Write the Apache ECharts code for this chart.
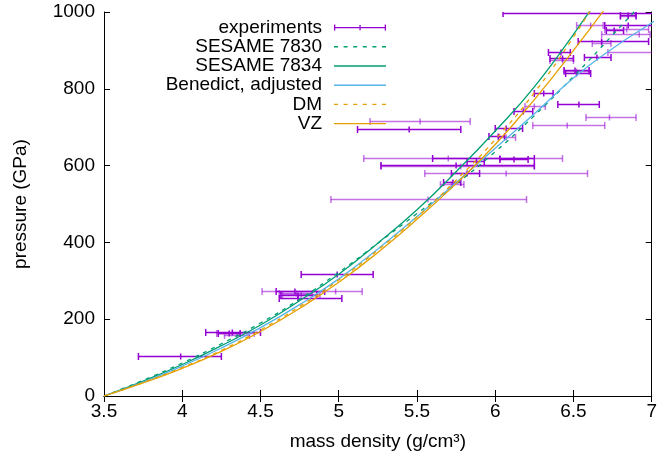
<!DOCTYPE html>
<html><head><meta charset="utf-8">
<script src="https://cdn.jsdelivr.net/npm/echarts@6/dist/echarts.min.js"></script>
<style>html,body{margin:0;padding:0;background:#fff}#c{width:660px;height:461px}</style>
</head><body><div id="c"></div>
<script>
// Tick labels
const xTicks = [3.5, 4, 4.5, 5, 5.5, 6, 6.5, 7];
const yTicks = [0, 200, 400, 600, 800, 1000];

// Model curves: [density g/cm3, pressure GPa]
const sesame7830 = [[3.5,0],[3.75,41],[4.0,86],[4.25,136],[4.5,190],[4.75,252],[5.0,322],[5.25,398],[5.5,475],[5.75,552],[6.0,636],[6.25,730],[6.5,832],[6.75,940],[7.0,1050]];
const sesame7834 = [[3.5,0],[3.75,39],[4.0,82],[4.25,131],[4.5,185],[4.75,248],[5.0,317],[5.25,398],[5.5,485],[5.75,584],[6.0,690],[6.25,805],[6.5,942],[6.75,1090]];
const benedict = [[3.5,0],[3.75,36],[4.0,78],[4.25,125],[4.5,178],[4.75,238],[5.0,305],[5.25,383],[5.5,467],[5.75,556],[6.0,645],[6.25,735],[6.5,828],[6.75,905],[7.0,972],[7.1,1000]];
const dm = [[3.5,0],[3.75,35],[4.0,74],[4.25,119],[4.5,172],[4.75,233],[5.0,302],[5.25,380],[5.5,466],[5.75,562],[6.0,668],[6.25,790],[6.5,935],[6.75,1100]];
const vz = [[3.5,0],[3.75,34],[4.0,72],[4.25,116],[4.5,168],[4.75,228],[5.0,296],[5.25,374],[5.5,460],[5.75,553],[6.0,655],[6.25,772],[6.5,900],[6.75,1035]];

// Experiments: [density low, density, density high, pressure]
const expDark = [
  [3.72,3.99,4.25,105],[4.15,4.32,4.50,167],[4.23,4.30,4.37,163],[4.76,4.99,5.22,317],
  [4.60,4.72,4.91,274],[4.63,4.74,4.86,263],[4.62,4.74,5.02,254],[5.67,5.73,5.78,556],
  [5.72,5.82,5.90,581],[5.27,5.75,6.25,602],[5.60,6.03,6.25,619],[6.03,6.12,6.21,617],
  [5.82,5.88,5.93,613],[5.12,5.45,5.78,695],[6.00,6.07,6.175,697],[5.96,6.02,6.06,677],
  [6.12,6.18,6.24,741],[6.25,6.31,6.37,788],[6.40,6.535,6.665,760],[6.44,6.51,6.60,849],
  [6.45,6.52,6.61,842],[6.35,6.43,6.50,879],[6.57,6.65,6.74,882],[6.34,6.42,6.48,897],
  [6.53,6.68,6.98,925],[6.71,6.76,6.82,953],[6.70,6.85,7.05,966],[6.80,6.85,6.90,992],
  [6.05,6.90,7.10,998]
];
const expLight = [
  [4.22,4.37,4.46,165],[4.27,4.35,4.43,160],[4.51,4.98,5.15,274],[4.62,4.73,4.83,269],
  [4.64,4.76,4.88,265],[4.95,5.57,6.20,513],[5.65,5.72,5.80,553],[5.55,6.07,6.59,580],
  [5.27,5.78,6.25,600],[5.16,5.70,6.43,621],[5.20,5.52,5.84,717],[6.24,6.46,6.70,706],
  [6.58,6.73,6.90,727],[6.19,6.25,6.32,754],[6.02,6.07,6.13,674],[6.72,7.10,7.40,897],
  [6.35,6.43,6.50,876],[6.44,6.52,6.60,846],[6.52,6.61,6.69,966],[6.70,6.84,6.98,957],
  [6.68,6.92,6.99,944],[6.62,6.68,6.74,920],[6.80,6.85,6.90,989]
];

const FONT = 'Liberation Sans, Arial, sans-serif';
const FS = 19;
const VIOLET = '#9400d3';
const VIOLET_LIGHT = 'rgba(148,0,211,0.55)';

function barRenderer(color) {
  return function (params, api) {
    const p = api.value(3);
    const lo = api.coord([api.value(0), p]);
    const mid = api.coord([api.value(1), p]);
    const hi = api.coord([api.value(2), p]);
    const y = Math.round(lo[1]) + 0.5;
    const st = { stroke: color, lineWidth: 1.5, fill: null };
    const c = 3.5, t = 3;
    return { type: 'group', children: [
      { type: 'line', shape: { x1: lo[0], y1: y, x2: hi[0], y2: y }, style: st },
      { type: 'line', shape: { x1: lo[0], y1: y - c, x2: lo[0], y2: y + c }, style: st },
      { type: 'line', shape: { x1: hi[0], y1: y - c, x2: hi[0], y2: y + c }, style: st },
      { type: 'line', shape: { x1: mid[0], y1: y - t, x2: mid[0], y2: y + t }, style: st }
    ]};
  };
}

const errIcon = 'path://M0,0.5L1.3,0.5L1.3,2.8L25.4,2.8L25.4,0.8L26.7,0.8L26.7,2.8L50.7,2.8L50.7,0.5L52,0.5L52,6.5L50.7,6.5L50.7,4.2L26.7,4.2L26.7,6.2L25.4,6.2L25.4,4.2L1.3,4.2L1.3,6.5L0,6.5Z';
const solidIcon = 'path://M0,0L52,0L52,1.4L0,1.4Z';
const dashIcon = 'path://M0,0L4,0L4,1.4L0,1.4Z M9.6,0L13.6,0L13.6,1.4L9.6,1.4Z M19.2,0L23.2,0L23.2,1.4L19.2,1.4Z M28.8,0L32.8,0L32.8,1.4L28.8,1.4Z M38.4,0L42.4,0L42.4,1.4L38.4,1.4Z M48,0L52,0L52,1.4L48,1.4Z';

function lineSeries(name, data, color, dashed) {
  return { name, type: 'line', data, symbol: 'none', showSymbol: false, smooth: 0.5,
    lineStyle: { color, width: 1.3, type: dashed ? [4, 5] : 'solid' },
    itemStyle: { color }, clip: true, z: 3 };
}

const axisCommonX = { type: 'value', min: xTicks[0], max: xTicks[xTicks.length - 1], interval: 0.5,
  splitLine: { show: false }, axisLine: { show: true, lineStyle: { color: '#000', width: 1 } },
  axisTick: { show: true, inside: true, length: 6, lineStyle: { color: '#000' } } };
const axisCommonY = { type: 'value', min: yTicks[0], max: yTicks[yTicks.length - 1], interval: 200,
  splitLine: { show: false }, axisLine: { show: true, lineStyle: { color: '#000', width: 1 } },
  axisTick: { show: true, inside: true, length: 6, lineStyle: { color: '#000' } } };

const chart = echarts.init(document.getElementById('c'), null, { renderer: 'canvas' });
chart.setOption({
  animation: false,
  backgroundColor: '#fff',
  textStyle: { fontFamily: FONT },
  grid: { left: 104, right: 3, top: 12, bottom: 65, containLabel: false },
  legend: {
    orient: 'vertical', align: 'right', right: 274, top: 18,
    itemWidth: 52, itemHeight: 19.2, itemGap: 0, padding: 0,
    selectedMode: false,
    textStyle: { fontFamily: FONT, fontSize: FS, color: '#000', lineHeight: 19.2, padding: [0, 7, 0, 0] },
    data: [
      { name: 'experiments', icon: errIcon, itemStyle: { color: VIOLET } },
      { name: 'SESAME 7830', icon: dashIcon },
      { name: 'SESAME 7834', icon: solidIcon },
      { name: 'Benedict, adjusted', icon: solidIcon },
      { name: 'DM', icon: dashIcon },
      { name: 'VZ', icon: solidIcon }
    ]
  },
  xAxis: [
    Object.assign({}, axisCommonX, { position: 'bottom',
      name: 'mass density (g/cm³)', nameLocation: 'middle', nameGap: 36,
      nameTextStyle: { fontFamily: FONT, fontSize: FS, color: '#000' },
      axisLabel: { show: true, margin: 6, fontFamily: FONT, fontSize: FS, color: '#000',
        formatter: v => String(v) } }),
    Object.assign({}, axisCommonX, { position: 'top', axisLabel: { show: false } })
  ],
  yAxis: [
    Object.assign({}, axisCommonY, { position: 'left',
      name: 'pressure (GPa)', nameLocation: 'middle', nameGap: 74, nameRotate: 90,
      nameTextStyle: { fontFamily: FONT, fontSize: FS, color: '#000' },
      axisLabel: { show: true, margin: 9, fontFamily: FONT, fontSize: FS, color: '#000',
        formatter: v => String(v) } }),
    Object.assign({}, axisCommonY, { position: 'right', axisLabel: { show: false } })
  ],
  series: [
    { name: 'experiments', type: 'custom', renderItem: barRenderer(VIOLET), data: expDark,
      encode: { x: [0, 1, 2], y: 3 }, itemStyle: { color: VIOLET }, clip: true, z: 2 },
    { name: 'experiments (light)', type: 'custom', renderItem: barRenderer(VIOLET_LIGHT), data: expLight,
      encode: { x: [0, 1, 2], y: 3 }, itemStyle: { color: VIOLET_LIGHT }, clip: true, z: 1 },
    lineSeries('SESAME 7830', sesame7830, '#009e73', true),
    lineSeries('SESAME 7834', sesame7834, '#009e73', false),
    lineSeries('Benedict, adjusted', benedict, '#56b4e9', false),
    lineSeries('DM', dm, '#e69f00', true),
    lineSeries('VZ', vz, '#e69f00', false)
  ]
});
</script></body></html>
